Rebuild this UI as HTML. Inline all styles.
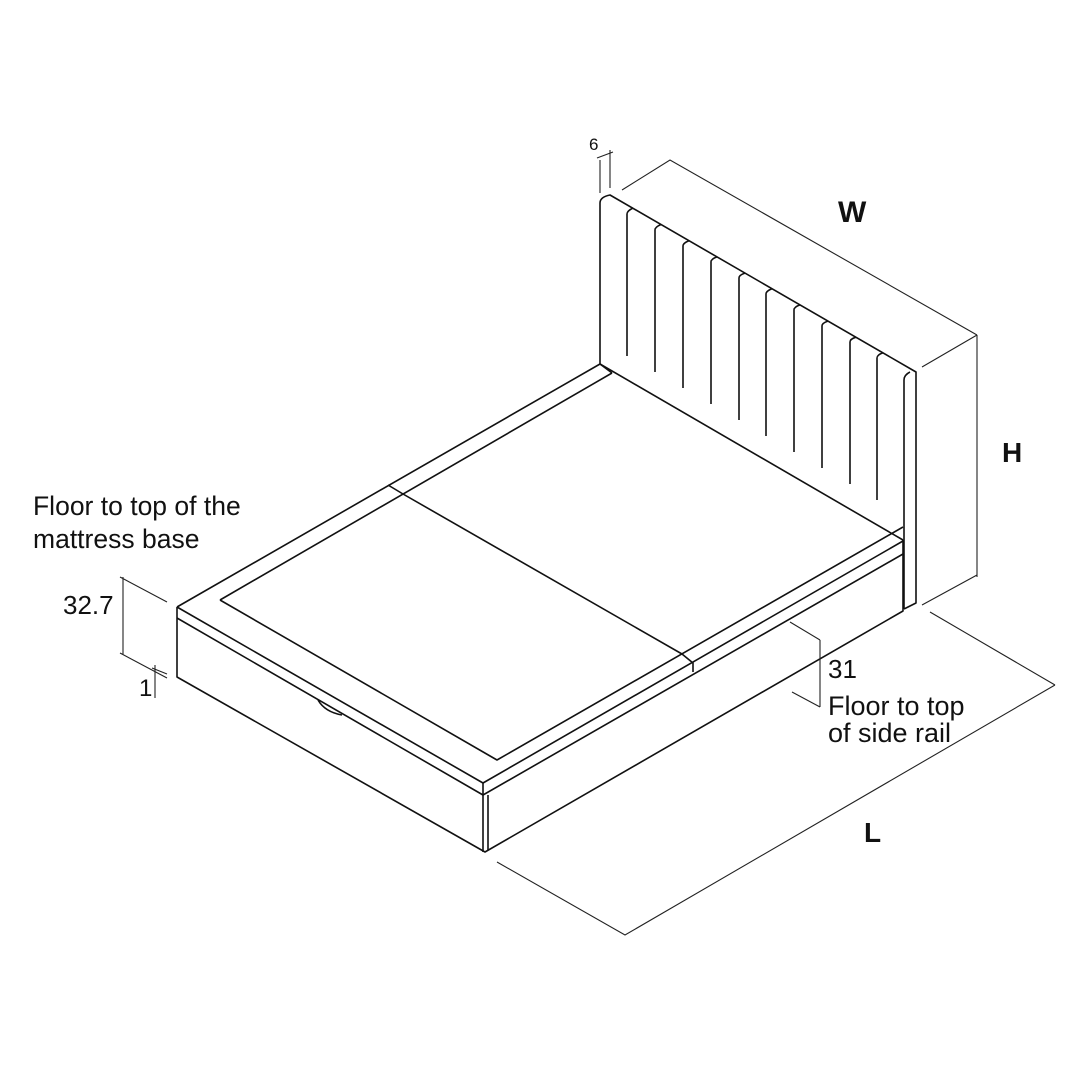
<!DOCTYPE html>
<html><head><meta charset="utf-8"><style>
html,body{margin:0;padding:0;background:#fff;}
svg{display:block;}
text{font-family:"Liberation Sans",Arial,sans-serif;fill:#111;}
</style></head><body>
<svg width="1080" height="1080" viewBox="0 0 1080 1080" xmlns="http://www.w3.org/2000/svg">
<g fill="none" stroke="#111" stroke-width="1.6" stroke-linejoin="round">
<!-- headboard -->
<path d="M600,364 L600,203 Q600,197 610,195 L916,372 L916,603 L904,609"/>
<path d="M904,609 L904,380 Q904,375 910,372"/>
<!-- slats -->
<path d="M627,356 L627,214 Q627,211 633,208"/>
<path d="M655,372 L655,230 Q655,227 661,224.5"/>
<path d="M683,388 L683,246 Q683,243 689,240.7"/>
<path d="M711,404 L711,262 Q711,259 717,256.9"/>
<path d="M739,420 L739,278 Q739,275 745,273.1"/>
<path d="M766,436 L766,294 Q766,291 772,288.7"/>
<path d="M794,452 L794,310 Q794,307 800,304.9"/>
<path d="M822,468 L822,326 Q822,323 828,321.1"/>
<path d="M850,484 L850,342 Q850,339 856,337.2"/>
<path d="M877,500 L877,358 Q877,355 883,352.8"/>
<!-- platform top -->
<path d="M600,364 L903,540"/>
<path d="M177,607 L600,364 L612,373"/>
<path d="M220,600 L612,373"/>
<path d="M388,485 L403,494 L682,654 L693,663 L693,672"/>
<path d="M220,600 L497,760 L903,527"/>
<path d="M177,607 L483,783 L903,541"/>
<path d="M177,618 L483,795 L903,554"/>
<path d="M177,607 L177,677 L485,852 L903,611 L903,540"/>
<path d="M483,783 L483,852"/>
<path d="M488,795 L488,850"/>
<path d="M318,700 Q325,712 342,715"/>
</g>
<g fill="none" stroke="#222" stroke-width="1.1">
<path d="M600,193 L600,160 M610,188 L610,150 M597,158 L613,152"/>
<path d="M622,190 L670,160 L977,335 M922,367 L977,335"/>
<path d="M977,335 L977,577 M922,605 L977,575"/>
<path d="M497,862 L625,935 L1055,685 M930,612 L1055,685"/>
<path d="M123,577 L123,655 M120,577 L167,602 M120,653 L167,678"/>
<path d="M155,665 L155,698 M152,668 L167,674"/>
<path d="M820,640 L820,707 M790,622 L820,640 M792,692 L820,707"/>
</g>
<text x="589" y="150" font-size="17">6</text>
<text x="838" y="222" font-size="30" font-weight="bold">W</text>
<text x="1002" y="462" font-size="28" font-weight="bold">H</text>
<text x="864" y="842" font-size="28" font-weight="bold">L</text>
<text x="33" y="515" font-size="26.5">Floor to top of the</text>
<text x="33" y="548" font-size="26.5">mattress base</text>
<text x="63" y="614" font-size="26">32.7</text>
<text x="139" y="696" font-size="24">1</text>
<text x="828" y="678" font-size="26">31</text>
<text x="828" y="715" font-size="27">Floor to top</text>
<text x="828" y="742" font-size="27">of side rail</text>
</svg>
</body></html>
